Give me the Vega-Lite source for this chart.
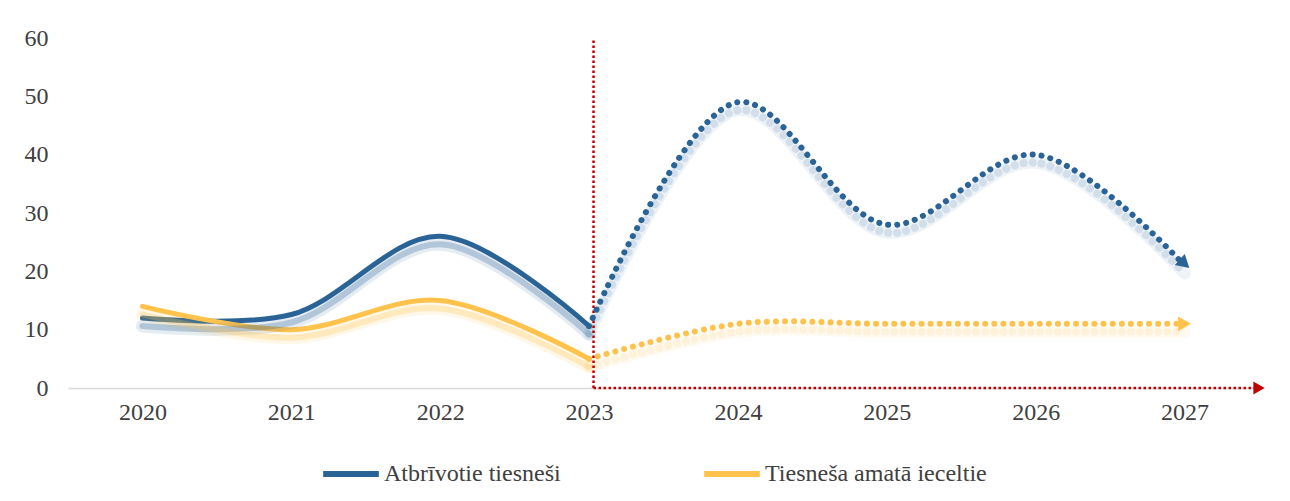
{
  "$schema": "https://vega.github.io/schema/vega-lite/v6.json",
  "width": 1191,
  "height": 350,
  "autosize": {"type": "none"},
  "padding": {"left": 68, "top": 38, "right": 31, "bottom": 113},
  "background": "white",
  "config": {
    "view": {"stroke": null},
    "font": "Liberation Serif",
    "axis": {"labelFont": "Liberation Serif", "labelFontSize": 24, "labelColor": "#404040", "grid": false, "ticks": false, "title": null},
    "legend": {"symbolType": "stroke", "symbolSize": 3100, "symbolStrokeWidth": 6, "symbolOpacity": 1, "labelLimit": 500,
      "labelFont": "Liberation Serif", "labelFontSize": 24, "labelColor": "#404040", "labelOffset": 2, "columnPadding": 131}
  },
  "datasets": {
    "series": [
      {"year": 2020, "value": 12, "series": "Atbrīvotie tiesneši", "seg": "actual"},
      {"year": 2021, "value": 12.6, "series": "Atbrīvotie tiesneši", "seg": "actual"},
      {"year": 2022, "value": 26, "series": "Atbrīvotie tiesneši", "seg": "actual"},
      {"year": 2023, "value": 10.6, "series": "Atbrīvotie tiesneši", "seg": "actual"},
      {"year": 2023, "value": 10.6, "series": "Atbrīvotie tiesneši", "seg": "forecast"},
      {"year": 2024, "value": 49, "series": "Atbrīvotie tiesneši", "seg": "forecast"},
      {"year": 2025, "value": 28, "series": "Atbrīvotie tiesneši", "seg": "forecast"},
      {"year": 2026, "value": 40, "series": "Atbrīvotie tiesneši", "seg": "forecast"},
      {"year": 2027, "value": 21, "series": "Atbrīvotie tiesneši", "seg": "forecast"},
      {"year": 2020, "value": 14, "series": "Tiesneša amatā ieceltie", "seg": "actual"},
      {"year": 2021, "value": 10, "series": "Tiesneša amatā ieceltie", "seg": "actual"},
      {"year": 2022, "value": 15, "series": "Tiesneša amatā ieceltie", "seg": "actual"},
      {"year": 2023, "value": 5, "series": "Tiesneša amatā ieceltie", "seg": "actual"},
      {"year": 2023, "value": 5, "series": "Tiesneša amatā ieceltie", "seg": "forecast"},
      {"year": 2024, "value": 11, "series": "Tiesneša amatā ieceltie", "seg": "forecast"},
      {"year": 2025, "value": 11, "series": "Tiesneša amatā ieceltie", "seg": "forecast"},
      {"year": 2026, "value": 11, "series": "Tiesneša amatā ieceltie", "seg": "forecast"},
      {"year": 2027, "value": 11, "series": "Tiesneša amatā ieceltie", "seg": "forecast"}
    ],
    "arrows": [
      {"year": 2027, "value": 21.3, "series": "Atbrīvotie tiesneši", "angle": 42},
      {"year": 2027, "value": 11, "series": "Tiesneša amatā ieceltie", "angle": 0}
    ],
    "vref": [{"year": 2023.03, "value": 0, "value2": 60}],
    "href": [{"year": 2023.03, "year2": 2027.5, "value": 0}],
    "harrow": [{"year": 2027.5, "value": 0}]
  },
  "encoding": {
    "x": {"field": "year", "type": "quantitative", "scale": {"domain": [2019.5, 2027.5], "nice": false, "zero": false},
      "axis": {"values": [2020, 2021, 2022, 2023, 2024, 2025, 2026, 2027], "format": "d", "domainColor": "#d9d9d9", "domainWidth": 1.5, "labelPadding": 12}},
    "y": {"field": "value", "type": "quantitative", "scale": {"domain": [0, 60], "nice": false},
      "axis": {"values": [0, 10, 20, 30, 40, 50, 60], "domain": false, "labelPadding": 20}}
  },
  "layer": [
    {
      "data": {"name": "series"},
      "transform": [{"filter": "datum.seg == 'actual'"}],
      "mark": {"type": "line", "interpolate": "catmull-rom", "strokeWidth": 5, "strokeCap": "round"},
      "encoding": {"color": {"field": "series", "type": "nominal",
        "scale": {"domain": ["Atbrīvotie tiesneši", "Tiesneša amatā ieceltie"], "range": ["#2a6496", "#ffc34d"]},
        "legend": {"orient": "none", "legendX": 252, "legendY": 405, "direction": "horizontal", "title": null}}}
    },
    {
      "data": {"name": "series"},
      "transform": [{"filter": "datum.seg == 'actual'"}],
      "mark": {"type": "line", "interpolate": "catmull-rom", "strokeWidth": 13, "opacity": 0.12, "yOffset": 8, "strokeCap": "round"},
      "encoding": {"color": {"field": "series", "type": "nominal"}}
    },
    {
      "data": {"name": "series"},
      "transform": [{"filter": "datum.seg == 'actual'"}],
      "mark": {"type": "line", "interpolate": "catmull-rom", "strokeWidth": 6, "opacity": 0.28, "yOffset": 8, "strokeCap": "round"},
      "encoding": {"color": {"field": "series", "type": "nominal"}}
    },
    {
      "data": {"name": "series"},
      "transform": [{"filter": "datum.seg == 'forecast'"}],
      "mark": {"type": "line", "interpolate": "catmull-rom", "strokeWidth": 12, "opacity": 0.08, "yOffset": 8, "strokeCap": "round"},
      "encoding": {"color": {"field": "series", "type": "nominal"}}
    },
    {
      "data": {"name": "series"},
      "transform": [{"filter": "datum.seg == 'forecast'"}],
      "mark": {"type": "line", "interpolate": "catmull-rom", "strokeWidth": 8, "opacity": 0.14, "yOffset": 8, "strokeCap": "round", "strokeDash": [0.1, 9]},
      "encoding": {"color": {"field": "series", "type": "nominal"}}
    },
    {
      "data": {"name": "vref"},
      "mark": {"type": "rule", "color": "#c00000", "strokeWidth": 2.5, "strokeDash": [2.5, 2.5]},
      "encoding": {"y2": {"field": "value2"}}
    },
    {
      "data": {"name": "href"},
      "mark": {"type": "rule", "color": "#c00000", "strokeWidth": 2.5, "strokeDash": [2.5, 2.5]},
      "encoding": {"x2": {"field": "year2"}}
    },
    {
      "data": {"name": "harrow"},
      "mark": {"type": "point", "shape": "triangle-right", "filled": true, "color": "#c00000", "size": 170, "opacity": 1},
      "encoding": {}
    },
    {
      "data": {"name": "series"},
      "transform": [{"filter": "datum.seg == 'forecast'"}],
      "mark": {"type": "line", "interpolate": "catmull-rom", "strokeWidth": 6, "strokeCap": "round", "strokeDash": [0.1, 9]},
      "encoding": {"color": {"field": "series", "type": "nominal"}}
    },
    {
      "data": {"name": "arrows"},
      "mark": {"type": "point", "shape": "triangle-right", "filled": true, "size": 220, "opacity": 1},
      "encoding": {"color": {"field": "series", "type": "nominal"}, "angle": {"field": "angle", "type": "quantitative", "scale": null}}
    }
  ]
}
